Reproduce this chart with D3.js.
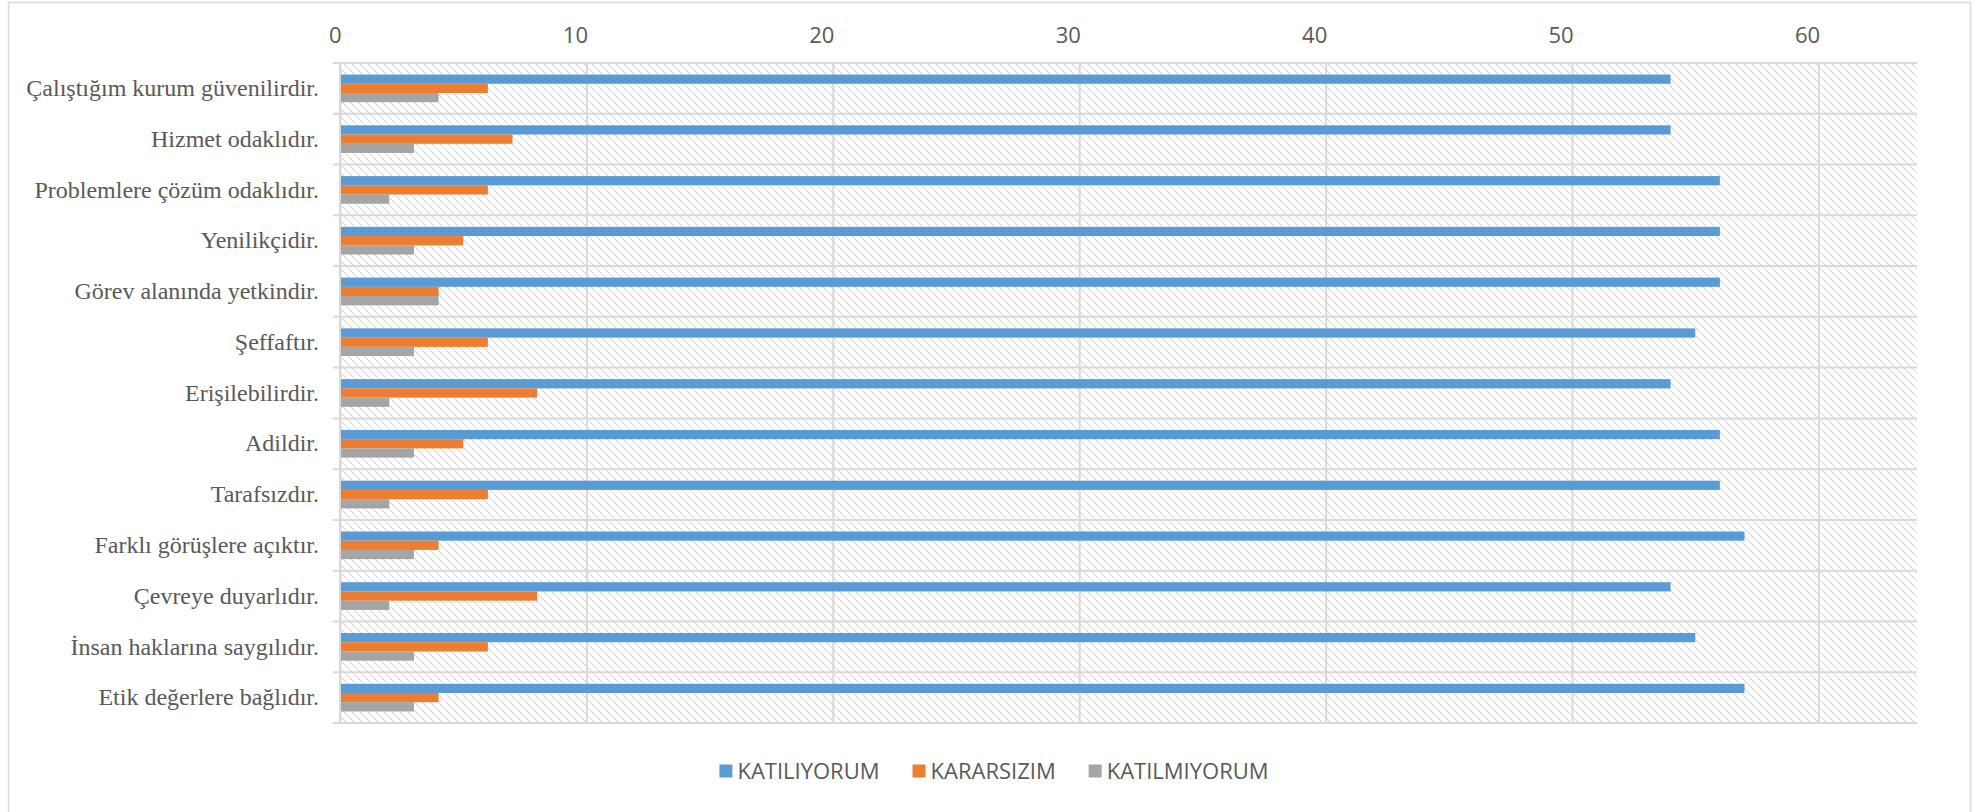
<!DOCTYPE html>
<html><head><meta charset="utf-8">
<script src="https://cdn.jsdelivr.net/npm/d3@7/dist/d3.min.js"></script>
<style>body{margin:0;background:#fff;} svg{display:block;}</style>
</head><body><svg id="chart" width="1988" height="812"></svg>
<script>
const categories = [
  "Çalıştığım kurum güvenilirdir.",
  "Hizmet odaklıdır.",
  "Problemlere çözüm odaklıdır.",
  "Yenilikçidir.",
  "Görev alanında yetkindir.",
  "Şeffaftır.",
  "Erişilebilirdir.",
  "Adildir.",
  "Tarafsızdır.",
  "Farklı görüşlere açıktır.",
  "Çevreye duyarlıdır.",
  "İnsan haklarına saygılıdır.",
  "Etik değerlere bağlıdır."
];
const seriesNames = ["KATILIYORUM", "KARARSIZIM", "KATILMIYORUM"];
const katiliyorum  = [54, 54, 56, 56, 56, 55, 54, 56, 56, 57, 54, 55, 57];
const kararsizim   = [6, 7, 6, 5, 4, 6, 8, 5, 6, 4, 8, 6, 4];
const katilmiyorum = [4, 3, 2, 3, 4, 3, 2, 3, 2, 3, 2, 3, 3];
const xTickValues = [0, 10, 20, 30, 40, 50, 60];
const xMax = 64;
const seriesColors = ["#5b9bd5", "#ed7d31", "#a5a5a5"];

const seriesValues = [katiliyorum, kararsizim, katilmiyorum];
const rows = categories.map((c, i) => ({cat: c, vals: seriesNames.map((s, j) => ({key: s, value: seriesValues[j][i]}))}));

const svg = d3.select("#chart");
const W = 1988, H = 812;
const plot = {left: 340, right: 1917, top: 63, bottom: 723};
const gridColor = "#d9d9d9";
const textColor = "#595959";

// outer chart border
svg.append("rect").attr("x", 8.5).attr("y", 2.5).attr("width", 1962).attr("height", 830)
  .attr("fill", "#fff").attr("stroke", gridColor).attr("stroke-width", 1.5);

// hatch pattern
const defs = svg.append("defs");
const pat = defs.append("pattern").attr("id", "hatch").attr("patternUnits", "userSpaceOnUse")
  .attr("width", 8).attr("height", 8);
pat.append("rect").attr("width", 8).attr("height", 8).attr("fill", "#fff");
pat.append("path").attr("d", "M-2,-2 L10,10 M-2,6 L2,10 M6,-2 L10,2")
  .attr("stroke", "#d4d4d4").attr("stroke-width", 1.3).attr("stroke-dasharray", "2,1");

const x = d3.scaleLinear().domain([0, xMax]).range([plot.left, plot.right]);
const y = d3.scaleBand().domain(categories).range([plot.top, plot.bottom]).paddingInner(0).paddingOuter(0);
const y1 = d3.scaleBand().domain(seriesNames).range([0, y.bandwidth()]).paddingInner(0).paddingOuter(1.25);
const color = d3.scaleOrdinal().domain(seriesNames).range(seriesColors);

svg.append("rect").attr("x", plot.left).attr("y", plot.top)
  .attr("width", plot.right - plot.left).attr("height", plot.bottom - plot.top)
  .attr("fill", "url(#hatch)");

// vertical gridlines
const gridX = svg.append("g").attr("transform", `translate(0,${plot.bottom})`)
  .call(d3.axisTop(x).tickValues(xTickValues).tickSize(plot.bottom - plot.top).tickFormat(""));
gridX.select(".domain").remove();
gridX.selectAll("line").attr("stroke", gridColor).attr("stroke-width", 2);

// horizontal category boundary lines (with outside tick marks)
const bounds = categories.map(c => y(c)).concat([plot.bottom]);
svg.append("g").selectAll("line").data(bounds).join("line")
  .attr("x1", plot.left - 7).attr("x2", plot.right)
  .attr("y1", d => d).attr("y2", d => d)
  .attr("stroke", gridColor).attr("stroke-width", 2);

// category axis line
svg.append("line").attr("x1", plot.left).attr("x2", plot.left)
  .attr("y1", plot.top).attr("y2", plot.bottom).attr("stroke", gridColor).attr("stroke-width", 2);

// bars
const groups = svg.append("g").selectAll("g").data(rows).join("g")
  .attr("transform", d => `translate(0,${y(d.cat)})`);
groups.selectAll("rect").data(d => d.vals).join("rect")
  .attr("x", x(0) + 1)
  .attr("y", d => y1(d.key))
  .attr("width", d => x(d.value) - x(0) - 1)
  .attr("height", y1.bandwidth())
  .attr("fill", d => color(d.key));

// top value axis labels
const axTop = svg.append("g").attr("transform", `translate(0,${plot.top})`)
  .call(d3.axisTop(x).tickValues(xTickValues).tickSize(0).tickPadding(20));
axTop.select(".domain").remove();
axTop.selectAll("text").attr("text-anchor", "end").attr("dx", "0.05em")
  .attr("font-family", "'Open Sans', sans-serif").attr("font-size", 22).attr("fill", textColor);

// category labels
const axLeft = svg.append("g").attr("transform", `translate(${plot.left},0)`)
  .call(d3.axisLeft(y).tickSize(0).tickPadding(21));
axLeft.select(".domain").remove();
axLeft.selectAll("text").attr("font-family", "'Liberation Serif', 'Times New Roman', serif")
  .attr("font-size", 24).attr("fill", textColor);

// legend
const legend = svg.append("g");
const items = legend.selectAll("g").data(seriesNames).join("g");
items.append("rect").attr("width", 13).attr("height", 13).attr("y", -6.5).attr("fill", d => color(d));
items.append("text").attr("x", 18).attr("dy", "0.36em").text(d => d)
  .attr("font-family", "'Open Sans', sans-serif").attr("font-size", 22).attr("fill", textColor);
let cx = 0;
const gap = 33;
items.each(function() {
  const w = 18 + this.querySelector("text").getComputedTextLength();
  d3.select(this).attr("transform", `translate(${cx},0)`);
  cx += w + gap;
});
const totalW = cx - gap;
legend.attr("transform", `translate(${(W - totalW) / 2},771)`);
</script>
</body></html>
